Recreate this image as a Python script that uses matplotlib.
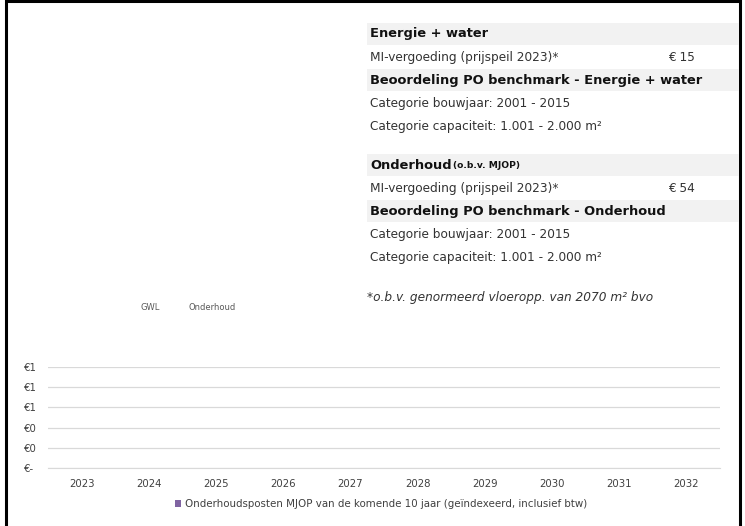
import matplotlib.pyplot as plt
from matplotlib.patches import Rectangle
from matplotlib.ticker import FuncFormatter

W, H = 745, 526

jaren = ['2023', '2024', '2025', '2026', '2027', '2028', '2029', '2030', '2031', '2032']
onderhoud = [0, 0, 0, 0, 0, 0, 0, 0, 0, 0]
y_ticks = [0, 0.2, 0.4, 0.6, 0.8, 1.0]
legend_label = 'Onderhoudsposten MJOP van de komende 10 jaar (geïndexeerd, inclusief btw)'

# tekstblok rechtsboven: (tekst, bedrag, vet/kop)
blok_energie = [
    ('Energie + water', '', True),
    ('MI-vergoeding (prijspeil 2023)*', '€ 15', False),
    ('Beoordeling PO benchmark - Energie + water', '', True),
    ('Categorie bouwjaar: 2001 - 2015', '', False),
    ('Categorie capaciteit: 1.001 - 2.000 m²', '', False),
]
blok_onderhoud = [
    ('Onderhoud', '', True),
    ('MI-vergoeding (prijspeil 2023)*', '€ 54', False),
    ('Beoordeling PO benchmark - Onderhoud', '', True),
    ('Categorie bouwjaar: 2001 - 2015', '', False),
    ('Categorie capaciteit: 1.001 - 2.000 m²', '', False),
]
voetnoot = '*o.b.v. genormeerd vloeropp. van 2070 m² bvo'


def fx(x):
    return x / W


def fy(y):
    return 1 - y / H


fig = plt.figure(figsize=(W / 100, H / 100), dpi=100)
fig.patch.set_facecolor('white')

# rand
fig.patches.append(Rectangle((fx(6), fy(540)), fx(740) - fx(6), fy(1) - fy(540),
                             transform=fig.transFigure, fill=False, edgecolor='black', lw=2.2))

STAP = 23.2


def teken_blok(rijen, y0):
    for i, (txt, bedrag, kop) in enumerate(rijen):
        y = y0 + i * STAP
        if kop:
            fig.patches.append(Rectangle((fx(367), fy(y + 11)), fx(739) - fx(367), 22 / H,
                                         transform=fig.transFigure, facecolor='#f2f2f2', edgecolor='none'))
            fig.text(fx(370), fy(y), txt, fontsize=9.4, fontweight='bold', color='#111111',
                     va='center', ha='left', family='DejaVu Sans')
        else:
            fig.text(fx(370), fy(y), txt, fontsize=8.7, color='#333333', va='center', ha='left',
                     family='DejaVu Sans')
        if bedrag:
            fig.text(fx(668), fy(y), bedrag, fontsize=8.7, color='#333333', va='center', ha='left',
                     family='DejaVu Sans')


teken_blok(blok_energie, 34)
teken_blok(blok_onderhoud, 165)
# kleine toevoeging achter "Onderhoud"
fig.text(fx(453), fy(166), '(o.b.v. MJOP)', fontsize=6.6, fontweight='bold', color='#111111',
         va='center', ha='left', family='DejaVu Sans')
fig.text(fx(367), fy(298), voetnoot, fontsize=8.7, style='italic', color='#333333',
         va='center', ha='left', family='DejaVu Sans')

fig.text(fx(150), fy(307), 'GWL', fontsize=6, color='#595959', ha='center', va='center')
fig.text(fx(212), fy(307), 'Onderhoud', fontsize=6, color='#595959', ha='center', va='center')

# grafiek
ax = fig.add_axes([fx(48), fy(468), fx(720) - fx(48), (468 - 367) / H])
ax.bar(range(len(jaren)), onderhoud, width=0.6, color='#8064a2', label=legend_label)
ax.set_xlim(-0.5, len(jaren) - 0.5)
ax.set_ylim(0, 1)
ax.set_yticks(y_ticks)
ax.yaxis.set_major_formatter(FuncFormatter(lambda v, p: '€-' if v == 0 else f'€{v:.0f}'))
ax.set_xticks(range(len(jaren)))
ax.set_xticklabels(jaren)
ax.tick_params(length=0, labelsize=7.3, colors='#404040')
ax.tick_params(axis='x', pad=8)
for lbl in ax.get_yticklabels():
    lbl.set_horizontalalignment('left')
ax.yaxis.set_tick_params(pad=17)
ax.grid(axis='y', color='#d9d9d9', lw=0.9)
ax.set_axisbelow(True)
for s in ['top', 'right', 'left']:
    ax.spines[s].set_visible(False)
ax.spines['bottom'].set_color('#d9d9d9')

fig.legend(loc='center', bbox_to_anchor=(fx(381), fy(504)), frameon=False, fontsize=7.4,
           handlelength=0.6, handleheight=0.6, handletextpad=0.4, labelcolor='#404040')

fig.savefig('out.png', dpi=100)
